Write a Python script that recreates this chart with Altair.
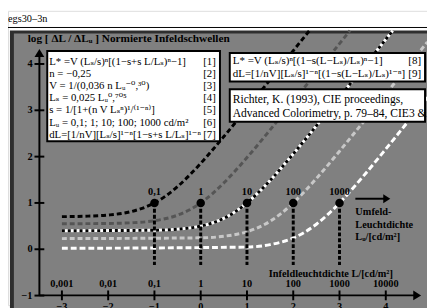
import altair as alt
import pandas as pd

SERIF = "Liberation Serif, DejaVu Serif, serif"
P = 8  # page margin

# ---------------- data ----------------
# threshold curves: x = log10 L (cd/m2), y = log(dL/dLu)
bk_x = [-3, -2.5, -2, -1.5, -1, -0.75, -0.5, -0.25, 0, 0.5, 1, 1.5, 2, 2.35]
bk_y = [0.704, 0.713, 0.739, 0.814, 1.000, 1.155, 1.354, 1.590, 1.854, 2.433, 3.042, 3.662, 4.286, 4.72]
dg_x = [-3, -2, -1.5, -1, -0.5, -0.25, 0, 0.25, 0.5, 1, 1.5, 2, 2.5, 3, 3.225]
dg_y = [0.551, 0.557, 0.572, 0.616, 0.736, 0.846, 1.000, 1.198, 1.433, 1.979, 2.577, 3.193, 3.815, 4.439, 4.72]
bw_x = [-3, -1, -0.5, 0, 0.5, 0.75, 1, 1.25, 1.5, 2, 2.5, 3, 3.5, 4, 4.151]
bw_y = [0.400, 0.411, 0.434, 0.500, 0.668, 0.812, 1.000, 1.227, 1.485, 2.057, 2.665, 3.284, 3.907, 4.532, 4.72]
lg_x = [-3, 0, 0.5, 1, 1.5, 1.75, 2, 2.25, 2.5, 3, 3.5, 4, 4.5, 4.9]
lg_y = [0.230, 0.247, 0.281, 0.378, 0.604, 0.782, 1.000, 1.252, 1.527, 2.117, 2.730, 3.352, 3.976, 4.475]
wh_x = [-3, 1, 1.5, 2, 2.5, 2.75, 3, 3.25, 3.5, 4, 4.5, 4.9]
wh_y = [0.020, 0.047, 0.101, 0.243, 0.540, 0.753, 1.000, 1.272, 1.560, 2.163, 2.781, 3.279]

lu_labels = ["0,1", "1", "10", "100", "1000"]
lu_log = [-1, 0, 1, 2, 3]
lu_val = [1, 1, 1, 1, 1]

xtick_log = [-3, -2, -1, 0, 1, 2, 3, 4]
xtick_lab = ["0,001", "0,01", "0,1", "1", "10", "100", "1000", "10000"]
xtick_exp = ["\u22123", "\u22122", "\u22121", "0", "1", "2", "3", "4"]
ytick_val = [-1, 0, 1, 2, 3, 4]
ytick_lab = ["\u22121", "0", "1", "2", "3", "4"]

box1_lines = [
    "L* =V (L\u209b/s)\u207f[(1\u2212s+s L/L\u209b)\u207f\u22121]",
    "n = \u22120,25",
    "V = 1/(0,036 n L\u1d64\u207b\u2070,\u00b3\u2070)",
    "L\u209b = 0,025 L\u1d64\u2070,\u2077\u2070\u2075",
    "s = 1/[1+(n V L\u209b\u207f)\u00b9/\u207d\u00b9\u207b\u207f\u207e]",
    "L\u1d64 = 0,1; 1; 10; 100; 1000 cd/m\u00b2",
    "dL=[1/nV][L\u209b/s]\u00b9\u207b\u207f[1\u2212s+s L/L\u209b]\u00b9\u207b\u207f",
]
box1_nums = ["[1]", "[2]", "[3]", "[4]", "[5]", "[6]", "[7]"]
box2_lines = [
    "L* =V (L\u209b/s)\u207f[(1\u2212s(L\u2212L\u209b)/L\u209b)\u207f\u22121]",
    "dL=[1/nV][L\u209b/s]\u00b9\u207b\u207f[(1\u2212s(L\u2212L\u209b)/L\u209b)\u00b9\u207b\u207f]",
]
box2_nums = ["[8]", "[9]"]
box3_lines = ["Richter, K. (1993), CIE proceedings,",
              "Advanced Colorimetry, p. 79\u201384, CIE3 &"]

# ---------------- scales ----------------
X = alt.Scale(domain=[-4.165, 4.891], nice=False, zero=False)
Y = alt.Scale(domain=[-1.2076, 5.148], nice=False, zero=False)
one = pd.DataFrame({"a": [0]})


def xq(f):
    return alt.X(f, type="quantitative", scale=X, axis=None)


def yq(f):
    return alt.Y(f, type="quantitative", scale=Y, axis=None)


def rect(x1, y1, x2, y2, **kw):
    return alt.Chart(one).mark_rect(**kw).encode(
        x=alt.value(x1 - P), x2=alt.value(x2 - P),
        y=alt.value(y1 - P), y2=alt.value(y2 - P))


def hline(x1, x2, y, w=1, color="black"):
    return alt.Chart(one).mark_rule(color=color, strokeWidth=w).encode(
        x=alt.value(x1 - P), x2=alt.value(x2 - P), y=alt.value(y - P))


def vline(x, y1, y2, w=1, color="black"):
    return alt.Chart(one).mark_rule(color=color, strokeWidth=w).encode(
        x=alt.value(x - P), y=alt.value(y1 - P), y2=alt.value(y2 - P))


def txt(x, y, s, size=10.5, bold=False, align="left"):
    return alt.Chart(one).mark_text(
        font=SERIF, fontSize=size, fontWeight="bold" if bold else "normal",
        align=align, baseline="alphabetic", color="black").encode(
        x=alt.value(x - P), y=alt.value(y - P), text=alt.value(s))


def arrow(cx, cy, path, size):
    return alt.Chart(one).mark_point(shape=path, size=size, filled=True,
                                     color="black", opacity=1).encode(
        x=alt.value(cx - P), y=alt.value(cy - P))


def curve(xs, ys, color, dash=None, w=3):
    df = pd.DataFrame({"lx": xs, "ly": ys})
    kw = dict(color=color, strokeWidth=w, interpolate="monotone", clip=True)
    if dash:
        kw["strokeDash"] = dash
    return alt.Chart(df).mark_line(**kw).encode(x=xq("lx"), y=yq("ly"))


layers = []
# frame / background
layers.append(hline(0 + P, 435, 25, 1))
layers.append(rect(10, 28, 440, 320, fill="#2e2e2e"))
layers.append(rect(14, 31, 440, 320, fill="#808080"))
layers.append(txt(8, 19.5, "egs30\u20133n", 10.5))

# curves
layers.append(curve(bk_x, bk_y, "black", [5, 3]))
layers.append(curve(dg_x, dg_y, "#555555", [5, 3]))
layers.append(curve(bw_x, bw_y, "white"))
layers.append(curve(bw_x, bw_y, "black", [3, 3]))
layers.append(curve(lg_x, lg_y, "#c8c8c8", [5, 3]))
layers.append(curve(wh_x, wh_y, "white", [6, 3]))

# markers at L = Lu
pts = pd.DataFrame({"lx": lu_log, "ly": lu_val, "lab": lu_labels})
layers.append(alt.Chart(pts).mark_rule(color="black", strokeWidth=3, strokeDash=[4, 2]).encode(
    x=xq("lx"), y=yq("ly"), y2=alt.datum(-0.34)))
layers.append(alt.Chart(pts).mark_circle(color="black", size=75, opacity=1).encode(
    x=xq("lx"), y=yq("ly")))
layers.append(alt.Chart(pts).mark_text(font=SERIF, fontSize=10.5, fontWeight="bold",
                                       dy=-8, baseline="alphabetic", color="black").encode(
    x=xq("lx"), y=yq("ly"), text="lab:N"))

# axes
layers.append(vline(40, 52, 298, 2))
layers.append(hline(40, 422, 298, 2))
layers.append(arrow(40, 51, "M0,-0.8L1,0.8L-1,0.8Z", 100))
layers.append(arrow(425, 298, "M0.8,0L-0.8,-1L-0.8,1Z", 100))
yt = pd.DataFrame({"v": ytick_val, "lab": ytick_lab})
layers.append(alt.Chart(yt).mark_rule(color="black", strokeWidth=2).encode(
    x=alt.value(35 - P), x2=alt.value(45 - P), y=yq("v")))
layers.append(alt.Chart(yt).mark_text(font=SERIF, fontSize=10.5, fontWeight="bold",
                                      align="right", baseline="middle", color="black").encode(
    x=alt.value(33 - P), y=yq("v"), text="lab:N"))
xt = pd.DataFrame({"v": xtick_log, "lab": xtick_lab, "ex": xtick_exp})
layers.append(alt.Chart(xt).mark_rule(color="black", strokeWidth=2).encode(
    x=xq("v"), y=alt.value(293 - P), y2=alt.value(303 - P)))
layers.append(alt.Chart(xt).mark_text(font=SERIF, fontSize=10.5, fontWeight="bold",
                                      baseline="alphabetic", color="black").encode(
    x=xq("v"), y=alt.value(289 - P), text="lab:N"))
layers.append(alt.Chart(xt).mark_text(font=SERIF, fontSize=10.5, fontWeight="bold",
                                      baseline="top", color="black").encode(
    x=xq("v"), y=alt.value(305 - P), text="ex:N"))
layers.append(txt(337, 279, "Infeldleuchtdichte L/[cd/m\u00b2]", 10.5, bold=True, align="center"))

# surround arrow + label
layers.append(hline(362, 392, 199.5, 2))
layers.append(arrow(394, 199.5, "M0.8,0L-0.8,-1L-0.8,1Z", 81))
layers.append(txt(362, 216, "Umfeld-", 10.5, bold=True))
layers.append(txt(362, 229, "Leuchtdichte", 10.5, bold=True))
layers.append(txt(362, 242, "L\u1d64/[cd/m\u00b2]", 10.5, bold=True))

# title
layers.append(txt(28, 40, "log [ \u0394L / \u0394L\u1d64 ]  Normierte Infeldschwellen", 11.5, bold=True))

# boxes
layers.append(rect(48, 49, 224, 141, fill="white", stroke="black", strokeWidth=2))
for i, (s, n) in enumerate(zip(box1_lines, box1_nums)):
    yb = 63 + i * 12.4
    layers.append(txt(50, yb, s, 11))
    layers.append(txt(207, yb, n, 11))
layers.append(rect(234, 51, 433, 80, fill="white", stroke="black", strokeWidth=2))
for i, (s, n) in enumerate(zip(box2_lines, box2_nums)):
    yb = 62 + i * 13
    layers.append(txt(237, yb, s, 11.2))
    layers.append(txt(429, yb, n, 11.2, align="right"))
layers.append(rect(234, 88, 433, 121, fill="white", stroke="black", strokeWidth=2))
for i, s in enumerate(box3_lines):
    layers.append(txt(237, 102 + i * 14, s, 11.8))

chart = alt.layer(*layers).properties(
    width=427, height=300,
    autosize=alt.AutoSizeParams(type="none"),
    padding=0,
).configure_view(stroke=None).configure(background="white")

chart.save("out.html", embed_options={"renderer": "svg", "actions": False})
